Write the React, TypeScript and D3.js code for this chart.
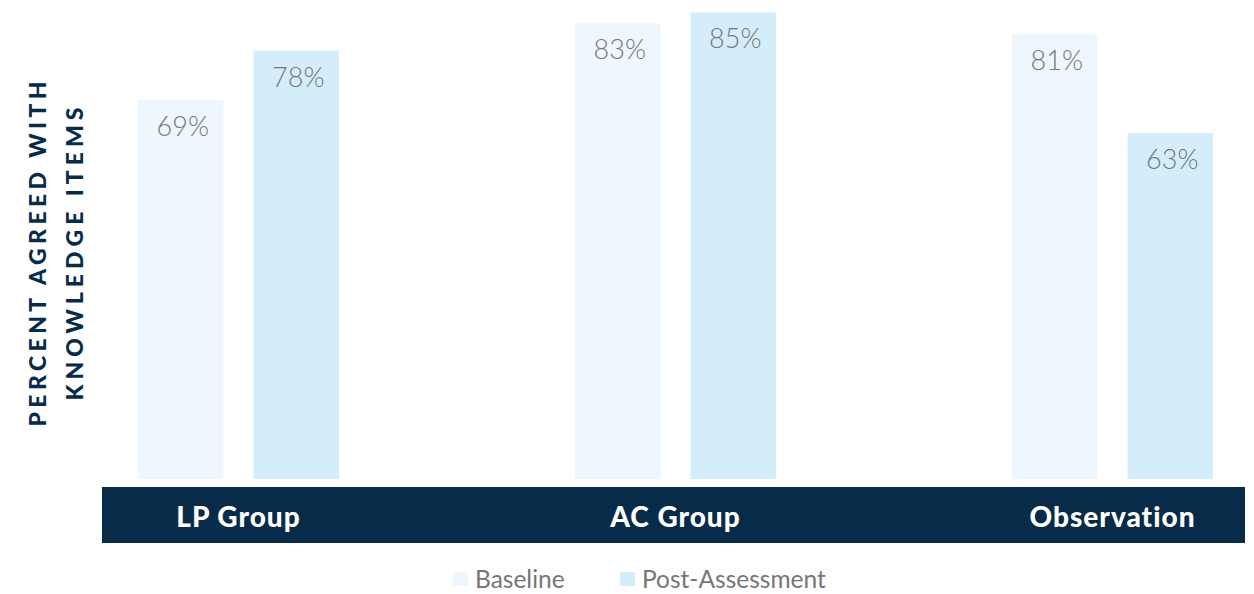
import React from "react";
import * as d3 from "d3";

const categories = ["LP Group", "AC Group", "Observation"];
const seriesNames = ["Baseline", "Post-Assessment"];
const baseline = [69, 83, 81];
const postAssessment = [78, 85, 63];
const yLabelLines = ["PERCENT AGREED WITH", "KNOWLEDGE ITEMS"];
const yLabelLengths = [345, 293];

const colors = ["#eef7fd", "#d3eefa"];
const navy = "#072b48";
const gray = "#767676";

export default function App() {
  const W = 1254;
  const H = 594;
  const baseY = 479;
  const y = d3.scaleLinear().domain([0, 100]).range([baseY, baseY - 549]);
  const x0 = d3.scalePoint<string>().domain(categories).range([238.5, 1112.5]);
  const x1 = d3
    .scaleBand<string>()
    .domain(seriesNames)
    .range([-100.5, 100.5])
    .paddingInner(0.26)
    .paddingOuter(0);
  const data = [baseline, postAssessment];
  const font = "Lato, 'Open Sans', sans-serif";

  return (
    <svg
      width={W}
      height={H}
      style={{ position: "absolute", left: 0, top: 0, background: "#fff" }}
      fontFamily={font}
    >
      {categories.map((c, ci) =>
        seriesNames.map((s, si) => {
          const v = data[si][ci];
          const bx = (x0(c) as number) + (x1(s) as number);
          const bw = x1.bandwidth();
          return (
            <g key={c + s}>
              <rect x={bx} y={y(v)} width={bw} height={baseY - y(v)} fill={colors[si]} />
              <text
                x={bx + bw / 2 + 2}
                y={y(v) + 36}
                textAnchor="middle"
                fontSize={27}
                fontWeight={300}
                fill={gray}
              >
                {v}%
              </text>
            </g>
          );
        })
      )}
      <rect x={102} y={487} width={1143} height={56} fill={navy} />
      {categories.map((c) => (
        <text
          key={c}
          x={x0(c) as number}
          y={527}
          textAnchor="middle"
          fontSize={28}
          fontWeight={900}
          fill="#fff"
          letterSpacing={1}
        >
          {c}
        </text>
      ))}
      {yLabelLines.map((t, i) => (
        <text
          key={t}
          transform={`translate(${46 + i * 37},254) rotate(-90)`}
          textAnchor="middle"
          fontSize={23}
          fontWeight={900}
          fill={navy}
          textLength={yLabelLengths[i]}
          lengthAdjust="spacing"
        >
          {t}
        </text>
      ))}
      {seriesNames.map((s, i) => {
        const lx = i === 0 ? 453 : 620;
        return (
          <g key={s}>
            <rect x={lx} y={572} width={15} height={14} fill={colors[i]} />
            <text x={lx + 22} y={588} fontSize={24.5} fontWeight={400} fill={gray}>
              {s}
            </text>
          </g>
        );
      })}
    </svg>
  );
}
